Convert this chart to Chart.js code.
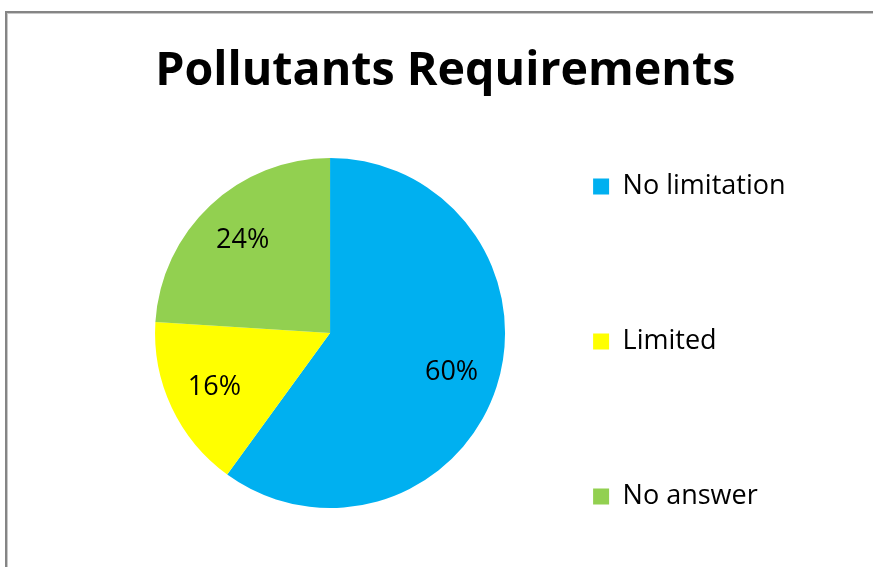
<!DOCTYPE html>
<html>
<head>
<meta charset="utf-8">
<script src="https://cdn.jsdelivr.net/npm/chart.js@4/dist/chart.umd.min.js"></script>
<style>
    body { margin: 0; background: #fff; }
    #wrap { position: relative; width: 873px; height: 567px; overflow: hidden; }
    #pie { position: absolute; left: 0; top: 0; }
    /* рамка діаграми (як в Excel, видно тільки верх і лівий край) */
    #frame {
        position: absolute; left: 5px; top: 11px; width: 900px; height: 600px;
        border-top: 2px solid #858585; border-left: 2px solid #858585;
        box-shadow: inset 1px 1px 0 #c8c8c8;
        pointer-events: none;
    }
</style>
</head>
<body>
<div id="wrap">
    <canvas id="pie" width="873" height="567"></canvas>
    <div id="frame"></div>
</div>

<script>
// === ДАНІ ===
const categories = ["No limitation", "Limited", "No answer"];
const shares = [60, 16, 24];
const sliceColors = ["#00B0F0", "#FFFF00", "#92D050"];

const FONT = "'Open Sans', 'DejaVu Sans', sans-serif";
Chart.defaults.font.family = FONT;
Chart.defaults.color = "#000";


// === ПІДПИСИ ВСЕРЕДИНІ СЕКТОРІВ ===
const sliceLabels = {
    id: "sliceLabels",
    afterDatasetsDraw(chart) {
        const ctx = chart.ctx;
        const meta = chart.getDatasetMeta(0);
        ctx.save();
        ctx.font = "27px " + FONT;
        ctx.fillStyle = "#000";
        ctx.textAlign = "center";
        ctx.textBaseline = "middle";
        meta.data.forEach((arc, i) => {
            const p = arc.getProps(["x", "y", "startAngle", "endAngle", "outerRadius"], true);
            const mid = (p.startAngle + p.endAngle) / 2;
            const r = p.outerRadius * 0.73;
            ctx.fillText(shares[i] + "%", p.x + Math.cos(mid) * r, p.y + Math.sin(mid) * r);
        });
        ctx.restore();
    }
};


// === ЛЕГЕНДА ===
// всі пункти крім останнього як масив з одного рядка -> висота рядка береться з font.lineHeight
function legendLabels(chart) {
    const items = Chart.DoughnutController.overrides.plugins.legend.labels.generateLabels(chart);
    return items.map((item, i) => Object.assign(item, {
        text: i < items.length - 1 ? [item.text] : item.text
    }));
}


// === ГРАФІК ===
new Chart(document.getElementById("pie"), {
    type: "pie",
    data: {
        labels: categories,
        datasets: [{
            data: shares,
            backgroundColor: sliceColors,
            borderWidth: 0
        }]
    },
    options: {
        responsive: false,
        animation: false,
        radius: 175,
        layout: { padding: { left: 95, right: 77.5, top: 0, bottom: 29 } },
        plugins: {
            tooltip: { enabled: false },
            title: {
                display: true,
                text: "Pollutants Requirements",
                color: "#000",
                font: { size: 46.6, weight: "bold", lineHeight: "56px" },
                padding: { top: 44, bottom: 28 }
            },
            legend: {
                position: "right",
                align: "end",
                fullSize: false,
                labels: {
                    boxWidth: 16,
                    boxHeight: 16,
                    padding: 28,
                    color: "#000",
                    font: { size: 27, lineHeight: "127px" },
                    generateLabels: legendLabels
                }
            }
        }
    },
    plugins: [sliceLabels]
});
</script>
</body>
</html>
